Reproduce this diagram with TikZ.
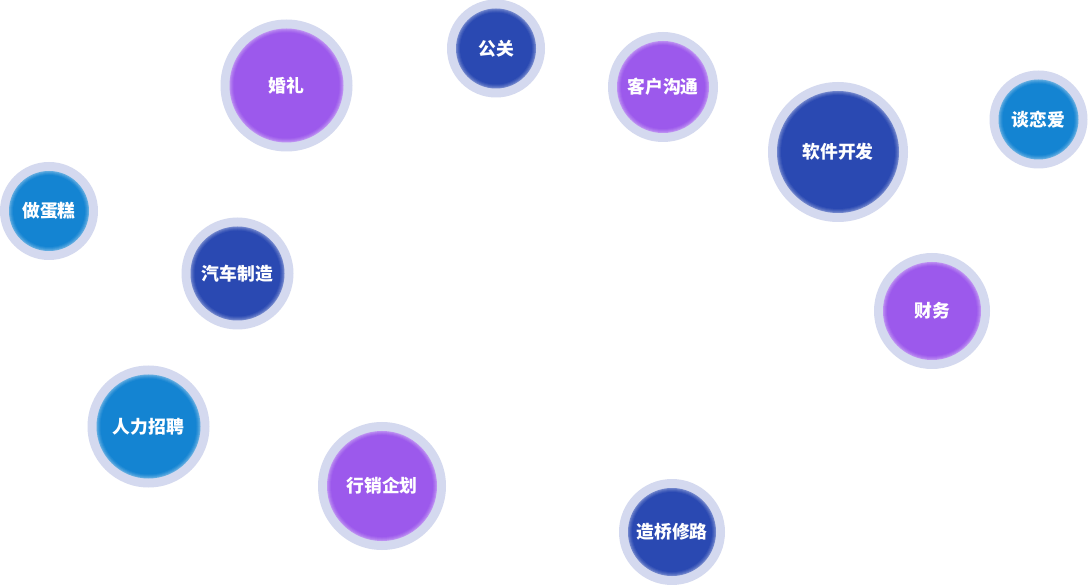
\documentclass[tikz,border=0pt]{standalone}
\usepackage{fontspec}
\newfontfamily\cjk{Noto Sans CJK SC}
\definecolor{ringc}{HTML}{D4D9EF}
\definecolor{purp}{HTML}{9C59EC}
\definecolor{navy}{HTML}{2A49B2}
\definecolor{sky}{HTML}{1484D2}
\tikzset{
  ringnode/.style={circle, fill=ringc, inner sep=0pt, draw=none},
  corenode/.style={circle, fill=#1, inner sep=0pt, draw=none, text=white,
    font=\cjk\bfseries\fontsize{17.8}{18}\selectfont},
}
\newcommand\mybubble[6]{%
  \node[ringnode, minimum size={2*#4pt}] (#1ring) at (#2,#3) {};
  \fill[#5!68!white] (#1ring.center) circle[radius={#4pt-9pt}];
  \fill[#5!78!white] (#1ring.center) circle[radius={#4pt-10pt}];
  \fill[#5!87!white] (#1ring.center) circle[radius={#4pt-11pt}];
  \fill[#5!94!white] (#1ring.center) circle[radius={#4pt-12pt}];
  \node[corenode=#5, minimum size={2*#4pt-26pt}] (#1) at (#2,#3) {#6};
}
\begin{document}
\begin{tikzpicture}[x=1pt,y=-1pt]
\fill[white] (0,0) rectangle (1088,585);
\useasboundingbox (0,0) rectangle (1088,585);
\mybubble{wedding}{286.5}{85.5}{66}{purp}{婚礼}
\mybubble{pr}{496}{48.5}{49}{navy}{公关}
\mybubble{client}{663}{87}{55}{purp}{客户沟通}
\mybubble{soft}{838}{152}{70}{navy}{软件开发}
\mybubble{love}{1038.5}{119.5}{49}{sky}{谈恋爱}
\mybubble{cake}{49}{211}{49}{sky}{做蛋糕}
\mybubble{car}{237.5}{273.5}{56}{navy}{汽车制造}
\mybubble{finance}{932}{311}{58}{purp}{财务}
\mybubble{hr}{148.5}{426.5}{61}{sky}{人力招聘}
\mybubble{market}{382}{486}{64}{purp}{行销企划}
\mybubble{bridge}{672}{532}{53}{navy}{造桥修路}
\end{tikzpicture}
\end{document}
